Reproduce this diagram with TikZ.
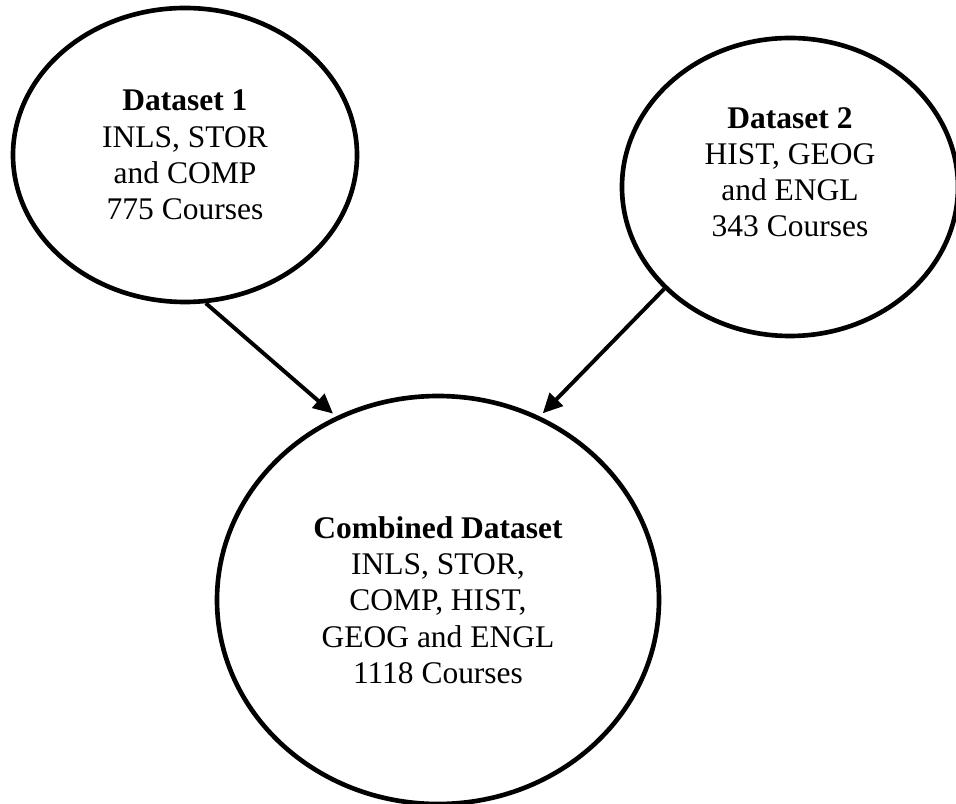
\documentclass[tikz,border=0pt]{standalone}
\usepackage{fontspec}
\setmainfont{Liberation Serif}
\usepackage{tikz}
\usetikzlibrary{arrows.meta, shapes.geometric}

\begin{document}
\begin{tikzpicture}[
        dataset/.style={ellipse, draw, line width=3.3pt, inner sep=0pt, align=center,
            font=\fontsize{22.4}{25.8}\selectfont},
        flow/.style={-{Triangle[length=14pt, width=13pt]}, line width=2.8pt, shorten >=3pt},
    ]
        \useasboundingbox (0,0) rectangle (23.9,-20.1);

        % Source datasets
        \node[dataset, minimum width=8.6cm, minimum height=7.35cm] (ds1) at (4.625,-3.875)
            {\textbf{Dataset 1}\\INLS, STOR\\and COMP\\775 Courses};
        \node[dataset, minimum width=8.4cm, minimum height=7.45cm, text depth=0.75cm] (ds2) at (19.75,-4.675)
            {\textbf{Dataset 2}\\HIST, GEOG\\and ENGL\\343 Courses};

        % Merged dataset
        \node[dataset, minimum width=11.05cm, minimum height=10.2cm] (comb) at (10.95,-15.0)
            {\textbf{Combined Dataset}\\INLS, STOR,\\COMP, HIST,\\GEOG and ENGL\\1118 Courses};

        \draw[flow] (ds1.-82) -- (comb.119);
        \draw[flow] (ds2.219) -- (comb.61);
    \end{tikzpicture}
\end{document}
